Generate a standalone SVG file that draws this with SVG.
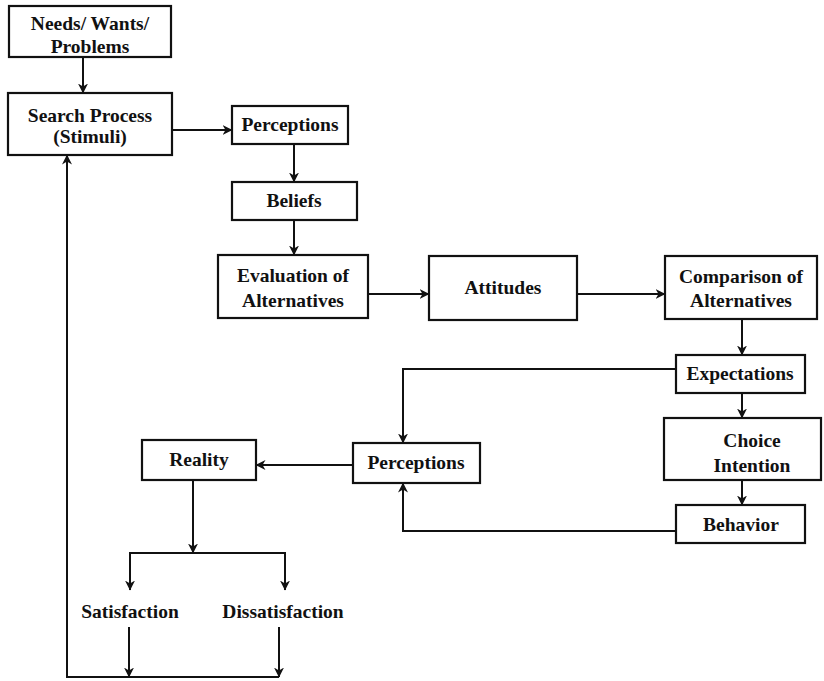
<svg xmlns="http://www.w3.org/2000/svg" width="824" height="681" viewBox="0 0 824 681">
<defs>
<style>
.box{fill:#fff;stroke:#111;stroke-width:2.2}
.t{font-family:"Liberation Serif","Times New Roman",serif;font-weight:bold;font-size:19.5px;fill:#111;text-anchor:middle}
.c{fill:none;stroke:#111;stroke-width:2;marker-end:url(#ah)}
</style>
<marker id="ah" viewBox="0 0 10 10" refX="9.5" refY="5" markerWidth="10" markerHeight="10" markerUnits="userSpaceOnUse" orient="auto">
<path d="M0,0 L10,5 L0,10 L3,5 z" fill="#111"/>
</marker>
</defs>
<rect width="824" height="681" fill="#fff"/>
<g id="connectors">
<path class="c" d="M83,57 V93"/>
<path class="c" d="M172,130 H232"/>
<path class="c" d="M294,144 V182"/>
<path class="c" d="M294,220 V255"/>
<path class="c" d="M368,294 H429"/>
<path class="c" d="M577,294 H665"/>
<path class="c" d="M742,319 V355"/>
<path class="c" d="M742,393 V418"/>
<path class="c" d="M742,480 V505"/>
<path class="c" d="M676,369 H403 V443"/>
<path class="c" d="M676,531 H403 V483"/>
<path class="c" d="M353,465 H256"/>
<path class="c" d="M193,480 V553"/>
<path class="c" d="M193,553 H130 V590"/>
<path class="c" d="M193,553 H285 V590"/>
<path class="c" d="M129,627 V677"/>
<path class="c" d="M279,627 V677"/>
<path class="c" d="M279,677 H67 V155"/>
</g>
<g id="needs"><rect class="box" x="9" y="6" width="162" height="51"/><text class="t" x="90" y="30">Needs/ Wants/</text><text class="t" x="90" y="53">Problems</text></g>
<g id="search"><rect class="box" x="8" y="93" width="164" height="62"/><text class="t" x="90" y="122">Search Process</text><text class="t" x="90" y="143">(Stimuli)</text></g>
<g id="perceptions1"><rect class="box" x="232" y="106" width="116" height="38"/><text class="t" x="290" y="131">Perceptions</text></g>
<g id="beliefs"><rect class="box" x="232" y="182" width="125" height="38"/><text class="t" x="294" y="207">Beliefs</text></g>
<g id="evaluation"><rect class="box" x="218" y="255" width="150" height="63"/><text class="t" x="293" y="282">Evaluation of</text><text class="t" x="293" y="307">Alternatives</text></g>
<g id="attitudes"><rect class="box" x="429" y="256" width="148" height="64"/><text class="t" x="503" y="294">Attitudes</text></g>
<g id="comparison"><rect class="box" x="665" y="256" width="152" height="63"/><text class="t" x="741" y="283">Comparison of</text><text class="t" x="741" y="307">Alternatives</text></g>
<g id="expectations"><rect class="box" x="676" y="355" width="129" height="38"/><text class="t" x="740" y="380">Expectations</text></g>
<g id="choice"><rect class="box" x="664" y="418" width="157" height="62"/><text class="t" x="752" y="447">Choice</text><text class="t" x="752" y="472">Intention</text></g>
<g id="behavior"><rect class="box" x="676" y="505" width="129" height="38"/><text class="t" x="741" y="531">Behavior</text></g>
<g id="perceptions2"><rect class="box" x="353" y="443" width="127" height="40"/><text class="t" x="416" y="469">Perceptions</text></g>
<g id="reality"><rect class="box" x="142" y="440" width="114" height="40"/><text class="t" x="199" y="466">Reality</text></g>
<g id="satisfaction"><text class="t" x="130" y="618">Satisfaction</text></g>
<g id="dissatisfaction"><text class="t" x="283" y="618">Dissatisfaction</text></g>
</svg>
